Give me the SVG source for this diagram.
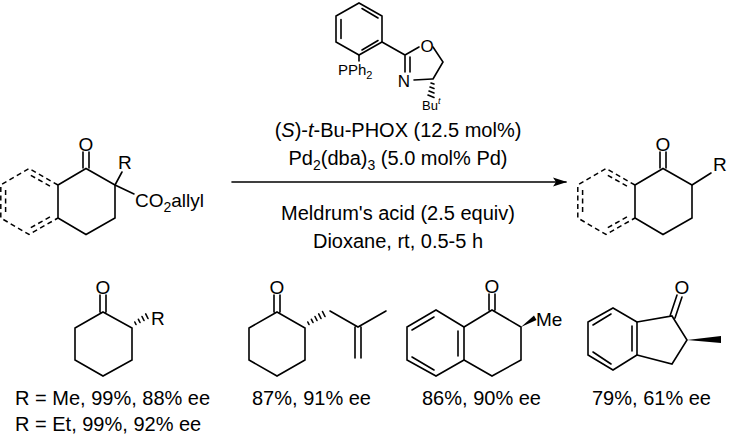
<svg xmlns="http://www.w3.org/2000/svg" width="735" height="436" viewBox="0 0 735 436">
<style>
.b{stroke:#000;stroke-width:1.6;fill:none;stroke-linecap:round}
.d{stroke:#000;stroke-width:1.5;fill:none;stroke-dasharray:5 3.5}
text{font-family:"Liberation Sans",Arial,sans-serif;fill:#000}
.t{font-size:20px}
.a{font-size:19px}
.c{text-anchor:middle}
</style>
<defs>
<g id="dring">
<path class="b" d="M58 185L86 168.5L115 185L115 218L86 234.5L58 218Z"/>
<path class="b" d="M83 168V152M89 168V152"/>
<path class="d" d="M58 185L29 168.5L0.8 185L0.8 218L29 234.5L58 218"/>
<path class="d" d="M30.8 175.3L51.1 186.8M5.6 190V213M30.8 227.7L51.1 216.2"/>
<text class="a c" x="86" y="151">O</text>
</g>
<marker id="ah" markerWidth="14" markerHeight="10" refX="13" refY="5" orient="auto" markerUnits="userSpaceOnUse"><path d="M0 0.5L14 5L0 9.5L3 5Z"/></marker>
</defs>
<g id="sm">
<use href="#dring"/>
<path class="b" d="M115 185L122 172M115 185L134 194"/>
<text class="a" x="118" y="169">R</text>
<text class="a" x="135" y="207">CO<tspan font-size="14" dy="5">2</tspan><tspan dy="-5">allyl</tspan></text>
</g>
<g id="ligand">
<path class="b" d="M359 3L382 16L382 42L359 55L336 42L336 16Z M341 19.5V38.5 M362 8.5L378 18 M362 50L378 40.5"/>
<path class="b" d="M359 55V61 M382 42L405 55L419 47 M433 47L443 62L433 79 M405 55V72 M410 57V72 M414 80L432 79"/>
<path class="b" stroke-width="1.2" d="M431 83l3 1M430 87l4 1.5M429 91l5 2M428 95l6 2.5"/>
<text x="338" y="75" font-size="15">PPh<tspan font-size="11" dy="4">2</tspan></text>
<text x="427" y="52" font-size="17" class="c">O</text>
<text x="404" y="87" font-size="17" class="c">N</text>
<text x="422" y="110" font-size="13">Bu<tspan font-size="9" dy="-6" font-style="italic">t</tspan></text>
</g>
<g id="conditions">
<text class="t c" x="398" y="137">(<tspan font-style="italic">S</tspan>)-<tspan font-style="italic">t</tspan>-Bu-PHOX (12.5 mol%)</text>
<text class="t c" x="398" y="165">Pd<tspan font-size="14" dy="5">2</tspan><tspan dy="-5">(dba)</tspan><tspan font-size="14" dy="5">3</tspan><tspan dy="-5"> (5.0 mol% Pd)</tspan></text>
<text class="t c" x="398" y="220">Meldrum's acid (2.5 equiv)</text>
<text class="t c" x="398" y="248">Dioxane, rt, 0.5-5 h</text>
</g>
<g id="connectors">
<path class="b" d="M232 182H566" marker-end="url(#ah)"/>
</g>
<g id="product">
<use href="#dring" transform="translate(577,0)"/>
<path class="b" d="M692 185L711 173"/>
<text class="a" x="713" y="171">R</text>
</g>
<g id="p1">
<path class="b" d="M103 312L132 328L132 360L103 376L75 360L75 328Z M100 312V295M106 312V295"/>
<path class="b" stroke-width="1.2" d="M136 324.5l-1.2-2.5M140 322.5l-1.6-3.2M144 320.5l-2-4M148 318.5l-2.3-4.6"/>
<text class="a c" x="103" y="294">O</text>
<text class="a" x="151" y="325">R</text>
<text class="t" x="15" y="405">R = Me, 99%, 88% ee</text>
<text class="t" x="15" y="431">R = Et, 99%, 92% ee</text>
</g>
<g id="p2">
<path class="b" d="M277 312L305 328L305 360L277 376L249 360L249 328Z M274 312V295M280 312V295"/>
<path class="b" stroke-width="1.2" d="M309 324.5l-1.2-2.5M313 322.5l-1.6-3.2M317 320.5l-2-4M321 318.5l-2.3-4.6M325 316.5l-2.5-5"/>
<path class="b" d="M330 311L358 327L386 311 M355 327V358M361 327V358"/>
<text class="a c" x="277" y="294">O</text>
<text class="t" x="252" y="405">87%, 91% ee</text>
</g>
<g id="p3">
<path class="b" d="M492 310L521 327L521 360L492 376L464 360L464 327Z M489 310V294M495 310V294"/>
<path class="b" d="M464 327L436 310L407 327L407 360L436 376L464 360 M458 331V356 M412 330L434 317 M412 357L434 370"/>
<path d="M521 327L534 315.5L536.5 320Z" fill="#000"/>
<text class="a c" x="492" y="293">O</text>
<text class="a" x="536" y="326">Me</text>
<text class="t" x="422" y="405">86%, 90% ee</text>
</g>
<g id="p4">
<path class="b" d="M613 308L637 322L637 355L613 370L588 355L588 322Z M632 326V351 M593 325L611 314 M593 352L611 364"/>
<path class="b" d="M637 322L672 316L687 340L672 364L637 355 M670 316L677 295M675 318L682 297"/>
<path d="M687 340L721 336L721 343Z" fill="#000"/>
<text class="a c" x="682" y="294">O</text>
<text class="t" x="592" y="405">79%, 61% ee</text>
</g>
</svg>
